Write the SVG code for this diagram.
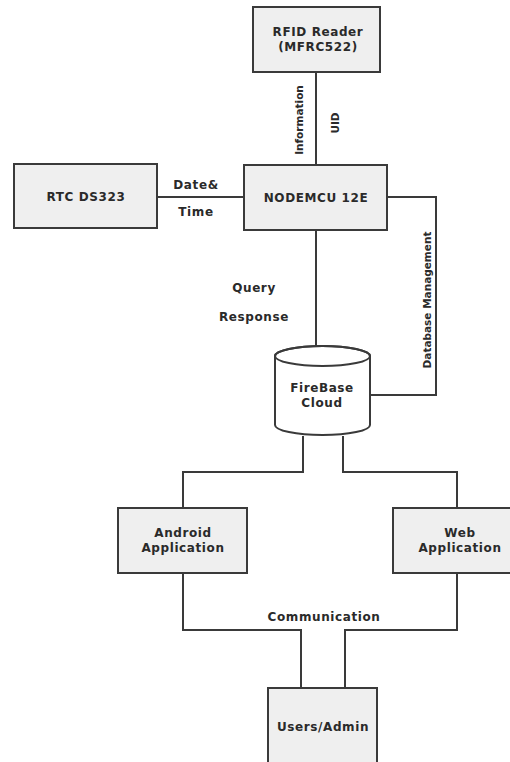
<svg xmlns="http://www.w3.org/2000/svg" width="510" height="762" viewBox="0 0 510 762">
<style>
.box{fill:#efefef;stroke:#3a3a3a;stroke-width:2}
.cyl{fill:#ffffff;stroke:#3a3a3a;stroke-width:2}
.ln{fill:none;stroke:#3a3a3a;stroke-width:2}
text{font-family:"DejaVu Sans","Liberation Sans",Arial,sans-serif;font-weight:bold;font-size:12px;letter-spacing:0.6px;fill:#2a2a2a;text-anchor:middle}
.v{font-size:10.5px;letter-spacing:0}
</style>
<rect width="510" height="762" fill="#ffffff"/>
<g id="connectors">
<line class="ln" x1="316" y1="72" x2="316" y2="165"/>
<line class="ln" x1="157" y1="197" x2="244" y2="197"/>
<line class="ln" x1="316" y1="230" x2="316" y2="356"/>
<polyline class="ln" points="387,197 436,197 436,395 370,395"/>
<polyline class="ln" points="303,436 303,472 183,472 183,508"/>
<polyline class="ln" points="343,436 343,472 457,472 457,508"/>
<polyline class="ln" points="183,573 183,630 301,630 301,688"/>
<polyline class="ln" points="457,573 457,630 345,630 345,688"/>
<text class="v" transform="translate(303,120) rotate(-90)">Information</text>
<text class="v" transform="translate(339,123) rotate(-90)">UID</text>
<text x="196" y="189">Date&amp;</text>
<text x="196" y="216">Time</text>
<text x="254" y="292">Query</text>
<text x="254" y="321">Response</text>
<text class="v" transform="translate(431,300) rotate(-90)">Database Management</text>
<text x="324" y="621">Communication</text>
</g>
<g id="rfid">
<rect class="box" x="253" y="7" width="127" height="65"/>
<text x="318" y="36">RFID Reader</text>
<text x="318" y="51">(MFRC522)</text>
</g>
<g id="nodemcu">
<rect class="box" x="244" y="165" width="143" height="65"/>
<text x="316" y="202" font-size="13">NODEMCU 12E</text>
</g>
<g id="rtc">
<rect class="box" x="14" y="164" width="143" height="64"/>
<text x="86" y="201">RTC DS323</text>
</g>
<g id="firebase">
<path class="cyl" d="M275,356 L275,425 A47.5,10 0 0 0 370,425 L370,356 A47.5,10 0 0 0 275,356 Z"/>
<ellipse fill="none" stroke="#3a3a3a" stroke-width="2" cx="322.5" cy="356" rx="47.5" ry="10"/>
<text x="322" y="392">FireBase</text>
<text x="322" y="407">Cloud</text>
</g>
<g id="android">
<rect class="box" x="118" y="508" width="129" height="65"/>
<text x="183" y="537">Android</text>
<text x="183" y="552">Application</text>
</g>
<g id="web">
<rect class="box" x="393" y="508" width="122" height="65"/>
<text x="460" y="537">Web</text>
<text x="460" y="552">Application</text>
</g>
<g id="users">
<rect class="box" x="268" y="688" width="109" height="80"/>
<text x="323" y="731">Users/Admin</text>
</g>
</svg>
